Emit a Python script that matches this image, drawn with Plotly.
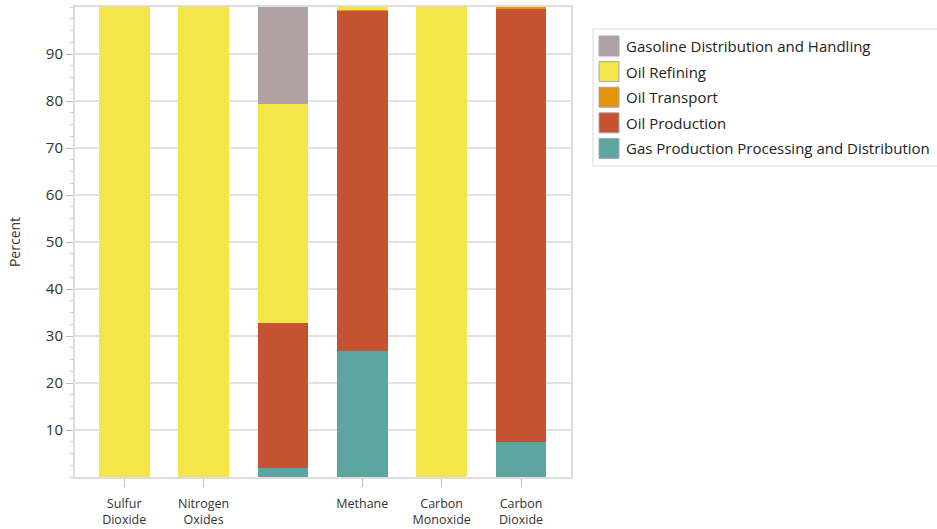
import plotly.graph_objects as go

categories = ["Sulfur<br>Dioxide", "Nitrogen<br>Oxides", " ", "Methane", "Carbon<br>Monoxide", "Carbon<br>Dioxide"]
labeled_categories = [c for c in categories if c.strip()]

gas_production = [0, 0, 2.0, 26.8, 0, 7.4]
oil_production = [0, 0, 30.8, 72.4, 0, 92.3]
oil_transport = [0, 0, 0, 0.1, 0, 0.3]
oil_refining = [100, 100, 46.5, 0.7, 100, 0]
gasoline_distribution = [0, 0, 20.7, 0, 0, 0]

series = [
    ("Gas Production Processing and Distribution", gas_production, "#5DA5A0"),
    ("Oil Production", oil_production, "#C55331"),
    ("Oil Transport", oil_transport, "#E8950E"),
    ("Oil Refining", oil_refining, "#F4E549"),
    ("Gasoline Distribution and Handling", gasoline_distribution, "#B0A2A4"),
]

fig = go.Figure()
for name, vals, color in series:
    fig.add_trace(go.Bar(x=categories, y=vals, name=name, marker=dict(color=color, line=dict(width=0)),
                         width=0.64, showlegend=False))

# plot area in pixels: x 75..571, y 7..477
L, R, T, B = 75, 571, 7, 477
def px(x):
    return (x - L) / (R - L)
def py(y):
    return (B - y) / (B - T)

font_family = "Open Sans, Noto Sans, sans-serif"
shapes = [dict(type="rect", xref="paper", yref="paper", x0=px(593), x1=px(940), y0=py(29), y1=py(166),
               line=dict(color="#D9D9D9", width=1), fillcolor="rgba(0,0,0,0)", layer="above")]
annotations = []
for i, (name, vals, color) in enumerate(reversed(series)):
    cy = 46 + i * 25.6
    shapes.append(dict(type="rect", xref="paper", yref="paper", x0=px(599), x1=px(619),
                       y0=py(cy + 10), y1=py(cy - 10), fillcolor=color,
                       line=dict(color="#A8A8A8", width=1), layer="above"))
    annotations.append(dict(xref="paper", yref="paper", x=px(624), y=py(cy), xanchor="left", yanchor="middle",
                            text=name, showarrow=False, font=dict(size=15, color="#222222", family=font_family)))

fig.update_layout(
    barmode="stack",
    width=937, height=529,
    margin=dict(l=L, r=937 - R, t=T, b=529 - B, autoexpand=False),
    paper_bgcolor="white", plot_bgcolor="white",
    font=dict(family=font_family, size=13, color="#333333"),
    showlegend=False,
    shapes=shapes, annotations=annotations,
)
fig.update_xaxes(range=[-0.62, 5.63], showline=True, linecolor="#DDDDDD", linewidth=2, mirror=True,
                 tickvals=labeled_categories, ticktext=labeled_categories, automargin=False,
                 ticks="outside", ticklen=8, tickcolor="#BBBBBB", tickfont=dict(size=12.5, color="#333333"),
                 ticklabelstandoff=6, showgrid=False)
fig.update_yaxes(range=[0, 100], tickvals=[10, 20, 30, 40, 50, 60, 70, 80, 90], automargin=False,
                 showline=True, linecolor="#DDDDDD", linewidth=2, mirror=True,
                 showgrid=True, gridcolor="#E3E3E3", gridwidth=1.5,
                 ticks="outside", ticklen=7, tickcolor="#BBBBBB", tickfont=dict(size=15, color="#333333"),
                 minor=dict(dtick=2.5, ticks="outside", ticklen=3, tickcolor="#CCCCCC", showgrid=False),
                 title=dict(text="Percent", font=dict(size=14, color="#333333"), standoff=22))

fig.write_html("out.html", config={"displayModeBar": False},
               post_script="document.body.style.margin='0px';")
